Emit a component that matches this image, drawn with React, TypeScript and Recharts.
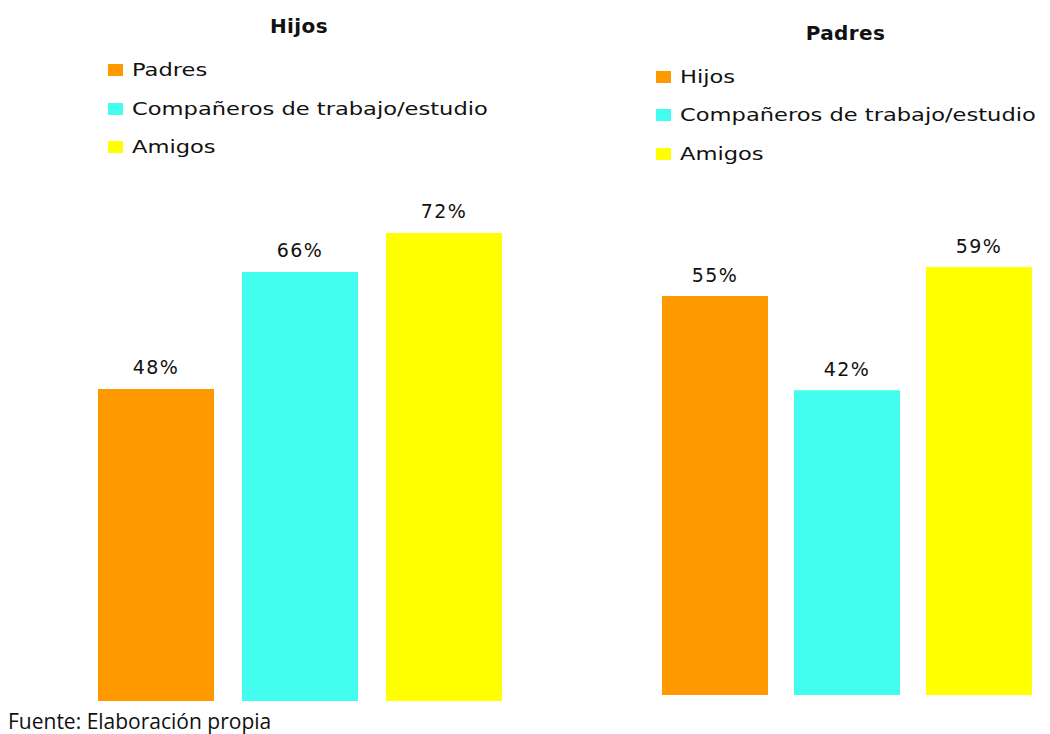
import React from 'react';
import { BarChart, Bar, XAxis, YAxis, Legend, LabelList } from 'recharts';

const hijosCategories = ['Hijos'];
const hijosSeries = ['Padres', 'Compañeros de trabajo/estudio', 'Amigos'];
const hijosPadres = [48];
const hijosCompaneros = [66];
const hijosAmigos = [72];

const padresCategories = ['Padres'];
const padresSeries = ['Hijos', 'Compañeros de trabajo/estudio', 'Amigos'];
const padresHijos = [55];
const padresCompaneros = [42];
const padresAmigos = [59];

const ORANGE = '#FF9900';
const CYAN = '#42FDEE';
const YELLOW = '#FFFF00';
const COLORS = [ORANGE, CYAN, YELLOW];

const hijosData = hijosCategories.map((c, i) => ({
  name: c,
  [hijosSeries[0]]: hijosPadres[i],
  [hijosSeries[1]]: hijosCompaneros[i],
  [hijosSeries[2]]: hijosAmigos[i],
}));

const padresData = padresCategories.map((c, i) => ({
  name: c,
  [padresSeries[0]]: padresHijos[i],
  [padresSeries[1]]: padresCompaneros[i],
  [padresSeries[2]]: padresAmigos[i],
}));

const FONT = '"DejaVu Sans", Verdana, sans-serif';

const makeLegend = (order: string[]) => (props: any) => {
  const items = [...(props.payload || [])].sort(
    (a: any, b: any) => order.indexOf(a.value) - order.indexOf(b.value)
  );
  return (
    <div style={{ fontFamily: FONT, fontSize: 18.5, color: '#111' }}>
      {items.map((entry: any, idx: number) => (
        <div key={idx} style={{ position: 'relative', height: 38.5, lineHeight: '38.5px', whiteSpace: 'nowrap' }}>
          <span style={{ position: 'absolute', left: 0, top: 13, width: 15, height: 12, background: entry.color }} />
          <span style={{ position: 'absolute', left: 24, top: 0, transform: 'scaleX(1.22)', transformOrigin: 'left center' }}>{entry.value}</span>
        </div>
      ))}
    </div>
  );
};

const HijosLegend = makeLegend(hijosSeries);
const PadresLegend = makeLegend(padresSeries);

const pct = (v: any) => `${v}%`;
const labelStyle = { fontFamily: FONT, fontSize: 19, letterSpacing: 1.5, fill: '#111' };

export default function App() {
  return (
    <div style={{ position: 'absolute', left: 0, top: 0, width: 1050, height: 734, background: '#fff', overflow: 'hidden' }}>
      <div style={{ position: 'absolute', left: 0, top: 0 }}>
        <BarChart width={525} height={734} data={hijosData} margin={{ top: 51, right: 23, bottom: 33, left: 97 }}
          barCategoryGap={0} barGap={28} barSize={116}>
          <XAxis dataKey="name" hide />
          <YAxis hide domain={[0, 100]} />
          <Legend layout="horizontal" verticalAlign="middle" align="center" content={<HijosLegend />}
            wrapperStyle={{ top: 51, left: 108, width: 420, height: 120 }} />
          {hijosSeries.map((s, i) => (
            <Bar key={s} dataKey={s} fill={COLORS[i]} isAnimationActive={false}>
              <LabelList dataKey={s} position="top" offset={15} formatter={pct} style={labelStyle} />
            </Bar>
          ))}
        </BarChart>
      </div>
      <div style={{ position: 'absolute', left: 525, top: 0 }}>
        <BarChart width={525} height={734} data={padresData} margin={{ top: 42, right: 18, bottom: 39, left: 136 }}
          barCategoryGap={0} barGap={26} barSize={106}>
          <XAxis dataKey="name" hide />
          <YAxis hide domain={[0, 90]} />
          <Legend layout="horizontal" verticalAlign="middle" align="center" content={<PadresLegend />}
            wrapperStyle={{ top: 57.5, left: 131, width: 390, height: 120 }} />
          {padresSeries.map((s, i) => (
            <Bar key={s} dataKey={s} fill={COLORS[i]} isAnimationActive={false}>
              <LabelList dataKey={s} position="top" offset={14} formatter={pct} style={labelStyle} />
            </Bar>
          ))}
        </BarChart>
      </div>
      <div style={{ position: 'absolute', left: 199, top: 14, width: 200, textAlign: 'center', fontFamily: FONT, fontWeight: 'bold', fontSize: 20, lineHeight: '24px', letterSpacing: 0.4, color: '#111' }}>
        Hijos
      </div>
      <div style={{ position: 'absolute', left: 745.5, top: 21, width: 200, textAlign: 'center', fontFamily: FONT, fontWeight: 'bold', fontSize: 20, lineHeight: '24px', letterSpacing: 0.4, color: '#111' }}>
        Padres
      </div>
      <div style={{ position: 'absolute', left: 8, top: 707, fontFamily: '"Open Sans", sans-serif', fontSize: 21, lineHeight: '28px', color: '#111', whiteSpace: 'nowrap' }}>
        Fuente: Elaboración propia
      </div>
    </div>
  );
}
